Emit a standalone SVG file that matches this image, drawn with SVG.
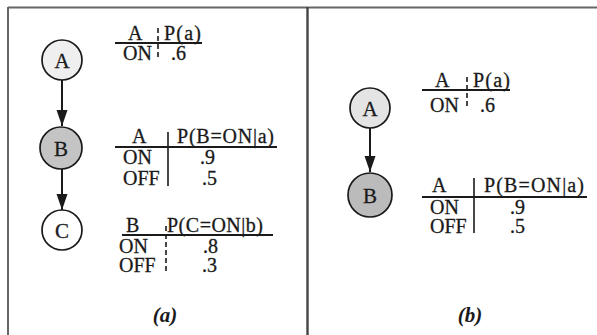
<svg xmlns="http://www.w3.org/2000/svg" width="597" height="335" viewBox="0 0 597 335">
<style>
text{font-family:"Liberation Serif","Times New Roman",serif;font-size:20px;fill:#1a1a1a;stroke:#1a1a1a;stroke-width:0.3}
.nl{font-size:21px;text-anchor:middle}
.cap{font-weight:bold;font-style:italic;font-size:21px;text-anchor:middle;stroke-width:0}
.node{stroke:#1a1a1a;stroke-width:1.7}
.rule{stroke:#1a1a1a;stroke-width:2}
.vd{stroke:#1a1a1a;stroke-width:1.6}
.dash{stroke-dasharray:5 3}
.frame{stroke:#666;stroke-width:2;fill:none}
.conn{stroke:#1a1a1a;stroke-width:2;fill:none;marker-end:url(#arr)}
</style>
<defs>
<marker id="arr" markerUnits="userSpaceOnUse" markerWidth="17" markerHeight="12" refX="16" refY="5.5" orient="auto">
<path d="M0,0 L16,5.5 L0,11 z" fill="#1a1a1a"/>
</marker>
</defs>
<rect width="597" height="335" fill="#fff"/>
<g id="frame">
<line class="frame" x1="8" y1="7.5" x2="597" y2="7.5"/>
<line class="frame" x1="8" y1="7" x2="8" y2="335"/>
<line x1="307.5" y1="7" x2="307.5" y2="335" stroke="#444" stroke-width="2.4"/>
</g>
<g id="connectors">
<line class="conn" x1="62" y1="80" x2="62" y2="126"/>
<line class="conn" x1="62" y1="169" x2="62" y2="210"/>
<line class="conn" x1="370" y1="128" x2="370" y2="172"/>
</g>
<g id="a-A"><circle class="node" cx="62" cy="60" r="20" fill="#efefef"/><text class="nl" x="62" y="68">A</text></g>
<g id="a-B"><circle class="node" cx="61" cy="148" r="21" fill="#c4c4c4"/><text class="nl" x="61" y="156">B</text></g>
<g id="a-C"><circle class="node" cx="62" cy="230" r="20" fill="#fff"/><text class="nl" x="62" y="238">C</text></g>
<g id="b-A"><circle class="node" cx="370" cy="108" r="20" fill="#e4e4e4"/><text class="nl" x="370" y="116">A</text></g>
<g id="b-B"><circle class="node" cx="370" cy="195" r="22" fill="#bbbbbb"/><text class="nl" x="370" y="203">B</text></g>
<g id="a-table1">
<line class="rule" x1="115" y1="43" x2="202" y2="43"/>
<line class="vd dash" x1="158" y1="28" x2="158" y2="60"/>
<text x="128" y="40">A</text><text x="164" y="40" textLength="37">P(a)</text>
<text x="123" y="60">ON</text><text x="171" y="60">.6</text>
</g>
<g id="a-table2">
<line class="rule" x1="115" y1="147" x2="277" y2="147"/>
<line class="vd" x1="168" y1="132" x2="168" y2="186"/>
<text x="132" y="143">A</text><text x="177" y="143" textLength="97">P(B=ON|a)</text>
<text x="123" y="164">ON</text><text x="200" y="164">.9</text>
<text x="123" y="185">OFF</text><text x="202" y="185">.5</text>
</g>
<g id="a-table3">
<line class="rule" x1="122" y1="235" x2="273" y2="235"/>
<line class="vd dash" x1="166" y1="226" x2="166" y2="271"/>
<text x="126" y="232">B</text><text x="167" y="232" textLength="96">P(C=ON|b)</text>
<text x="119" y="253">ON</text><text x="203" y="253">.8</text>
<text x="119" y="272">OFF</text><text x="202" y="272">.3</text>
</g>
<g id="b-table1">
<line class="rule" x1="422" y1="90" x2="510" y2="90"/>
<line class="vd dash" x1="467" y1="77" x2="467" y2="108"/>
<text x="435" y="87">A</text><text x="473" y="87" textLength="37">P(a)</text>
<text x="430" y="112">ON</text><text x="480" y="112">.6</text>
</g>
<g id="b-table2">
<line class="rule" x1="422" y1="197" x2="587" y2="197"/>
<line class="vd" x1="474" y1="178" x2="474" y2="233"/>
<text x="432" y="192">A</text><text x="484" y="192" textLength="100">P(B=ON|a)</text>
<text x="430" y="214">ON</text><text x="510" y="214">.9</text>
<text x="430" y="233">OFF</text><text x="510" y="233">.5</text>
</g>
<text class="cap" x="165" y="322">(a)</text>
<text class="cap" x="470" y="322">(b)</text>
</svg>
